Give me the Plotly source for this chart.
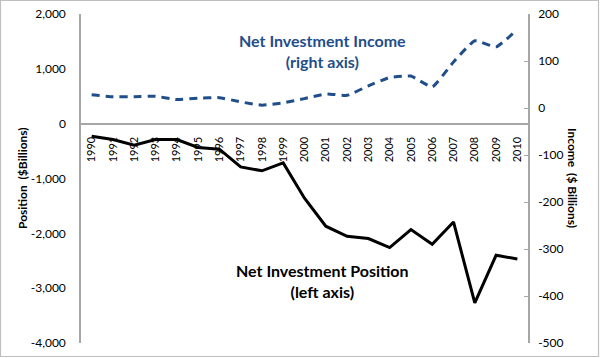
import plotly.graph_objects as go

years = [str(y) for y in range(1990, 2011)]
position = [-228, -290, -392, -290, -290, -435, -465, -788, -860, -715, -1360,
            -1870, -2053, -2095, -2259, -1931, -2199, -1792, -3270, -2400, -2467]
income = [28, 24, 24, 25, 18, 21, 22, 13, 6, 11, 20,
          30, 27, 47, 65, 68, 45, 98, 143, 130, 167]

left_ticks = [2000, 1000, 0, -1000, -2000, -3000, -4000]
left_text = ["2,000", "1,000", "0", "-1,000", "-2,000", "-3,000", "-4,000"]
right_ticks = [200, 100, 0, -100, -200, -300, -400, -500]
right_text = ["200", "100", "0", "-100", "-200", "-300", "-400", "-500"]

BLUE = "#1F4E8A"
FONT = "Lato"
PW, PH = 447, 329
L, T = 81, 14

fig = go.Figure()
fig.add_trace(go.Scatter(x=years, y=position, mode="lines",
                         line=dict(color="black", width=3), yaxis="y",
                         showlegend=False))
fig.add_trace(go.Scatter(x=years, y=income, mode="lines",
                         line=dict(color=BLUE, width=3, dash="8px,6px", shape="spline", smoothing=0.4),
                         yaxis="y2", showlegend=False))


def px(xpage):
    return (xpage - L) / PW


def py(ypage):
    return (T + PH - ypage) / PH


def note(x, y, text, color="black", size=16, angle=0):
    return dict(x=x, y=y, xref="paper", yref="paper", showarrow=False,
                xanchor="center", yanchor="middle", text=text, textangle=angle,
                font=dict(size=size, color=color, family=FONT), align="center")


fig.update_layout(
    width=600, height=358,
    margin=dict(l=L, r=600 - L - PW, t=T, b=358 - T - PH, autoexpand=False),
    paper_bgcolor="white", plot_bgcolor="white",
    showlegend=False,
    font=dict(family=FONT, size=12, color="black"),
    xaxis=dict(type="category", anchor="free", position=4000/6000,
               showline=True, linecolor="#A6A6A6", linewidth=1.5,
               showgrid=False, zeroline=False, ticks="",
               tickangle=-90, tickfont=dict(size=11, family=FONT),
               ticklabelstandoff=8, range=[-0.5, 20.5], automargin=False),
    yaxis=dict(range=[-4000, 2000], tickvals=left_ticks, ticktext=left_text,
               showline=True, linecolor="#A6A6A6", linewidth=1.5,
               showgrid=False, zeroline=False, ticks="",
               ticklabelstandoff=11, automargin=False, ticklabeloverflow="allow"),
    yaxis2=dict(range=[-500, 200], tickvals=right_ticks, ticktext=right_text,
                overlaying="y", side="right",
                showline=True, linecolor="#A6A6A6", linewidth=1.5,
                showgrid=False, zeroline=False, ticks="inside", ticklen=4,
                tickcolor="#A6A6A6", ticklabelstandoff=6, automargin=False,
                ticklabeloverflow="allow"),
    annotations=[
        note(px(322), py(51), "<b>Net Investment Income<br>(right axis)</b>", color=BLUE),
        note(px(322), py(281), "<b>Net Investment Position<br>(left axis)</b>"),
        note(px(22), py(178), "<b>Position  ($Billions)</b>", size=12, angle=-90),
        note(px(573), py(178), "<b>Income  ($ Billions)</b>", size=12, angle=90),
    ],
    shapes=[
        dict(type="rect", xref="paper", yref="paper",
             x0=px(0.5), x1=px(598.5), y0=py(356.5), y1=py(0.5),
             line=dict(color="#BFBFBF", width=1.2), fillcolor="rgba(0,0,0,0)", layer="below"),
    ],
)

fig.write_html("out.html", config={"displayModeBar": False},
               post_script="document.body.style.margin='0';")
